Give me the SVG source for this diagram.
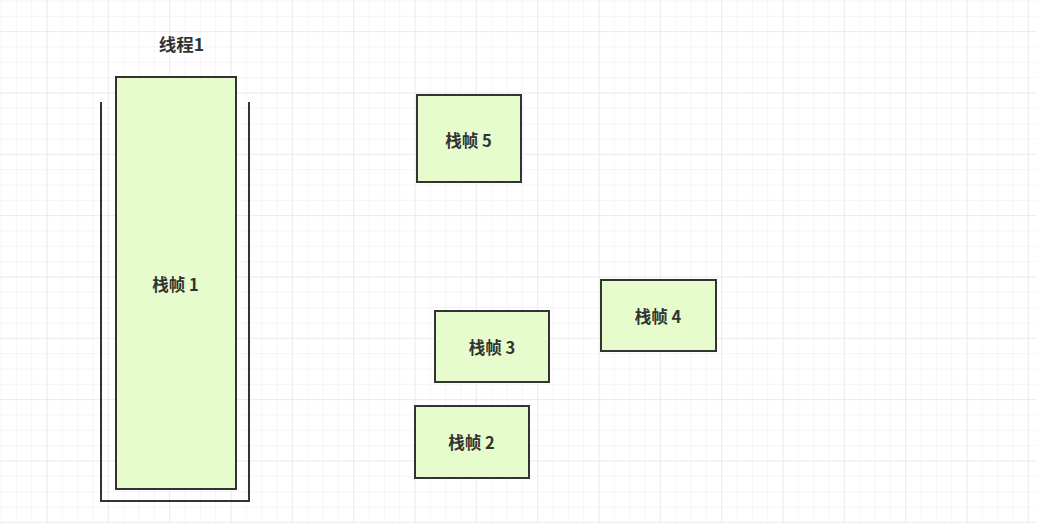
<svg xmlns="http://www.w3.org/2000/svg" width="1037" height="524" viewBox="0 0 1037 524">
  <defs>
    <pattern id="minor" patternUnits="userSpaceOnUse" x="0.5" y="0.5" width="15.333" height="15.333">
      <path d="M0 0V15.333M0 0H15.333" fill="none" stroke="#ececec" stroke-width="1"/>
    </pattern>
    <pattern id="major" patternUnits="userSpaceOnUse" x="46.5" y="31.17" width="61.333" height="61.333">
      <path d="M0 0V61.333M0 0H61.333" fill="none" stroke="#e2e2e2" stroke-width="1"/>
    </pattern>
  </defs>
  <style>
    .frame { fill: #e6fccd; stroke: #333333; stroke-width: 2; }
    .label { font-family: "Noto Sans CJK SC", "Liberation Sans", sans-serif; font-size: 16.5px; font-weight: bold; fill: #333333; text-anchor: middle; dominant-baseline: central; }
    .title { font-size: 17.5px; }
    .stack { fill: none; stroke: #333333; stroke-width: 2; }
  </style>
  <rect width="1037" height="524" fill="#ffffff"/>
  <rect width="1037" height="524" fill="url(#minor)"/>
  <rect width="1037" height="524" fill="url(#major)"/>

  <g id="thread1">
    <text class="label title" x="181.5" y="43">线程1</text>
    <path class="stack" d="M101 102V501H249V102"/>
  </g>
  <g id="frame1">
    <rect class="frame" x="116" y="77" width="120" height="412"/>
    <text class="label" x="175.5" y="284">栈帧 1</text>
  </g>
  <g id="frame5">
    <rect class="frame" x="417" y="95" width="104" height="87"/>
    <text class="label" x="468.5" y="140">栈帧 5</text>
  </g>
  <g id="frame4">
    <rect class="frame" x="601" y="280" width="115" height="71"/>
    <text class="label" x="658" y="316">栈帧 4</text>
  </g>
  <g id="frame3">
    <rect class="frame" x="435" y="311" width="114" height="71"/>
    <text class="label" x="492" y="347">栈帧 3</text>
  </g>
  <g id="frame2">
    <rect class="frame" x="415" y="406" width="114" height="72"/>
    <text class="label" x="471.5" y="442">栈帧 2</text>
  </g>
  <g id="connectors"></g>
</svg>
